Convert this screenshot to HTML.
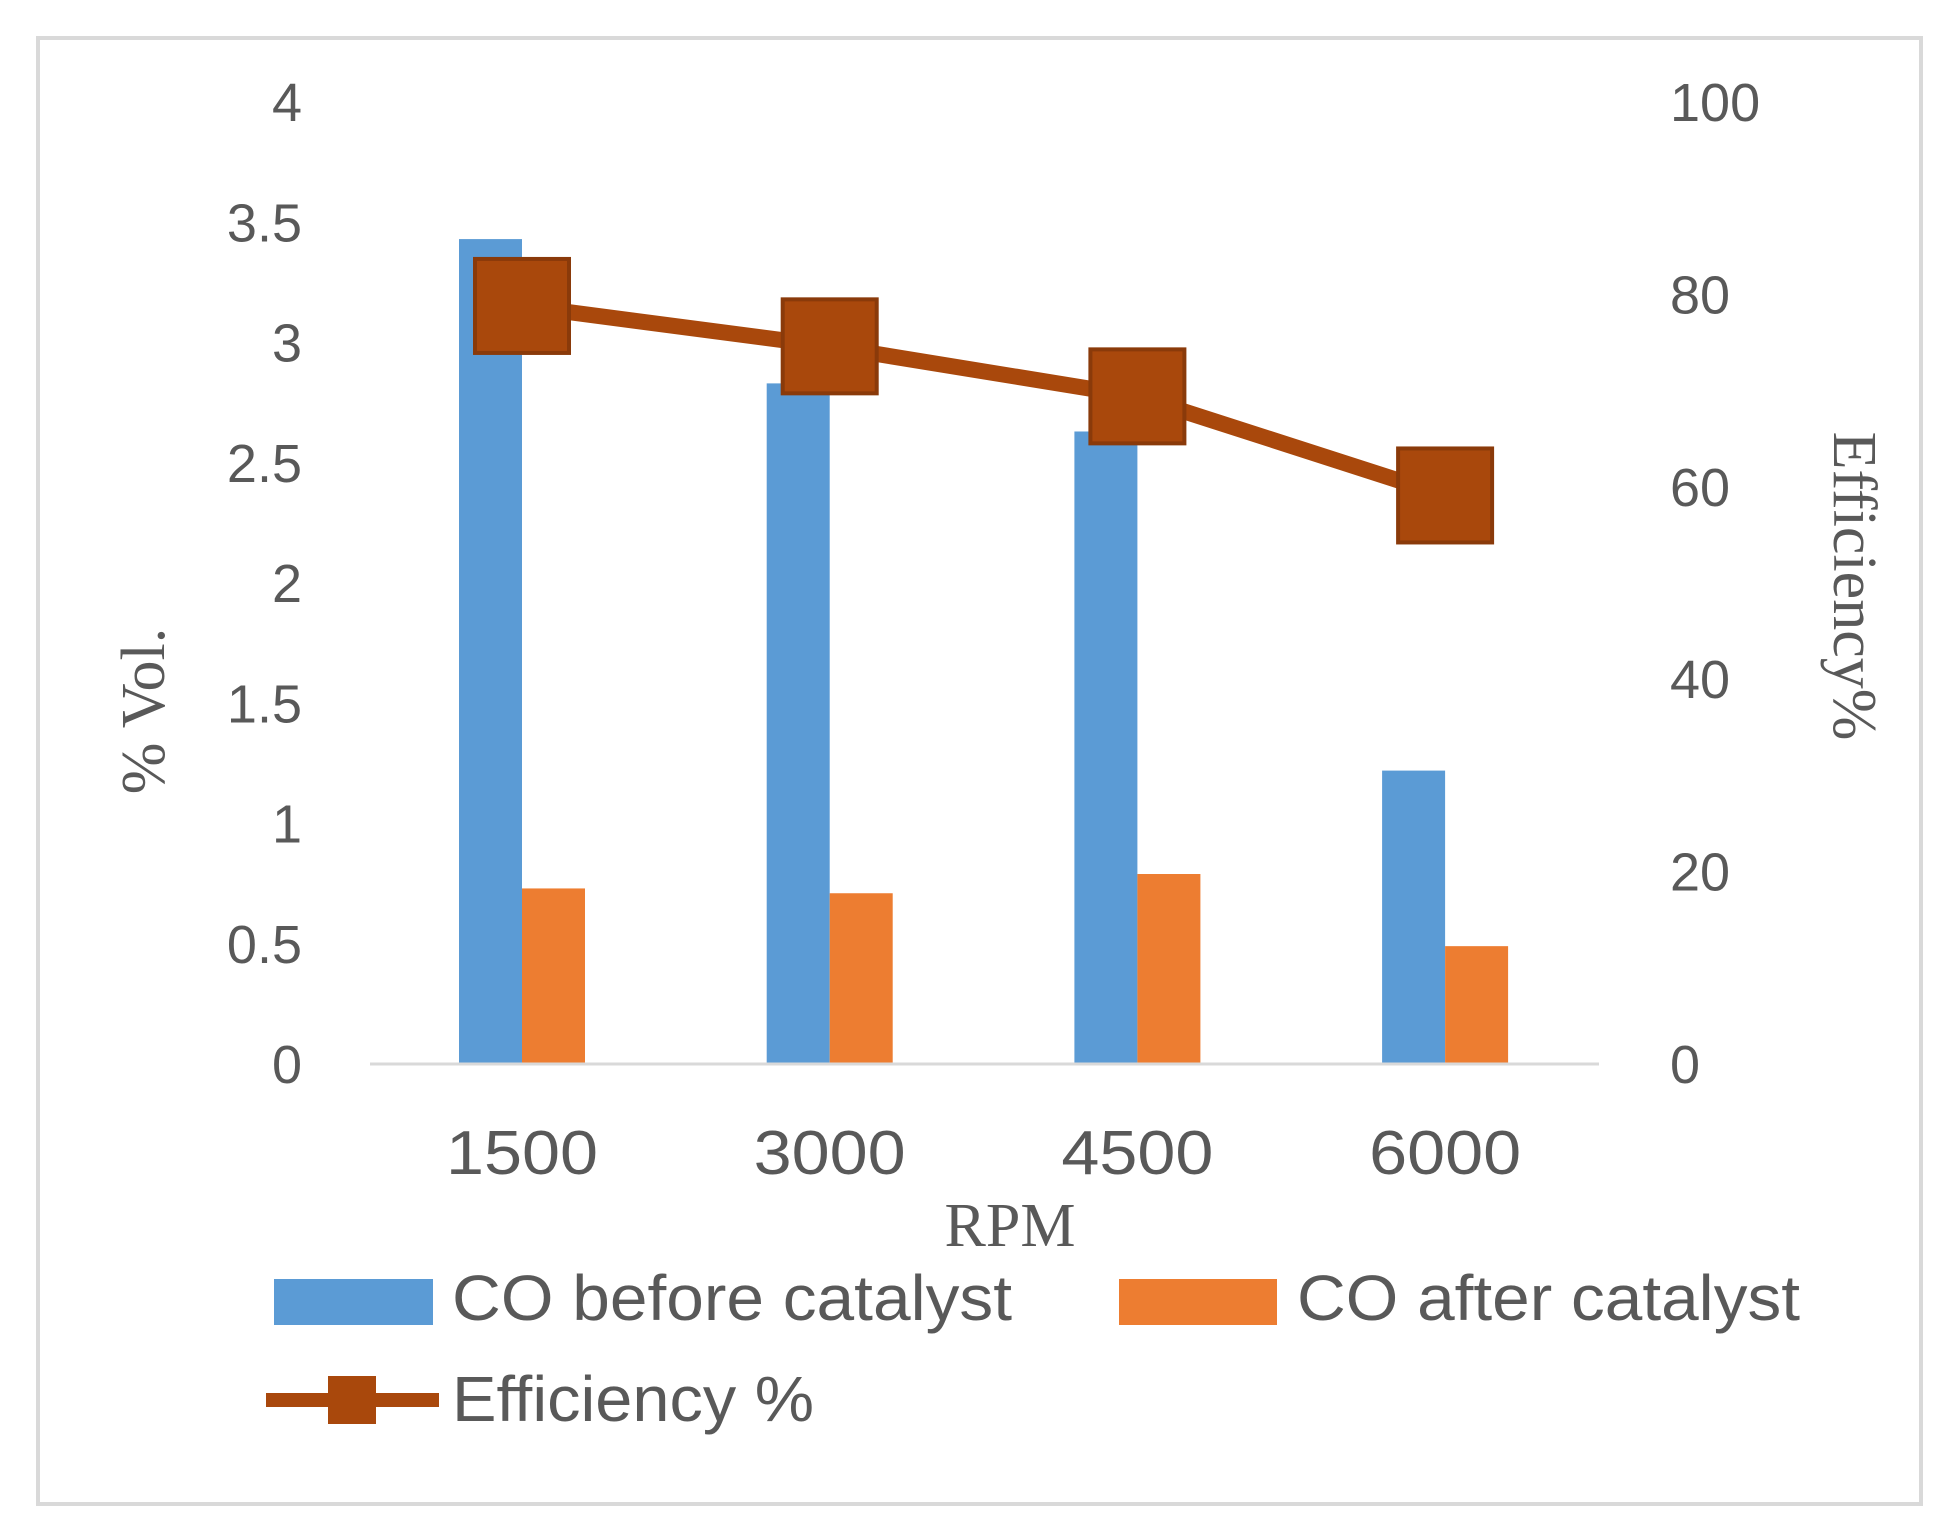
<!DOCTYPE html>
<html><head><meta charset="utf-8"><style>
body{margin:0;background:#fff;}
svg{display:block;}
text{fill:#595959;}
</style></head><body>
<svg id="chart" width="1946" height="1536" viewBox="0 0 1946 1536">
<rect x="38" y="38" width="1883" height="1466" fill="#fff" stroke="#d9d9d9" stroke-width="4"/>
<g id="g"></g>
</svg>
<script>
const categories=["1500","3000","4500","6000"];
const coBefore=[3.43,2.83,2.63,1.22];
const coAfter=[0.73,0.71,0.79,0.49];
const efficiency=[78.8,74.6,69.4,59.1];
const leftTicks=["0","0.5","1","1.5","2","2.5","3","3.5","4"];
const rightTicks=["0","20","40","60","80","100"];
const NS="http://www.w3.org/2000/svg";
const g=document.getElementById('g');
const SANS='font-family:"Liberation Sans",sans-serif';
const SERIF='font-family:"Liberation Serif",serif';
const y0=1064,yTop=102;
const yL=v=>y0-(v/4)*(y0-yTop);
const yR=v=>y0-(v/100)*(y0-yTop);
const xC=i=>522+i*307.7;
function mk(t,a,txt){const e=document.createElementNS(NS,t);for(const k in a)e.setAttribute(k,a[k]);if(txt!==undefined)e.textContent=txt;g.appendChild(e);return e;}
leftTicks.forEach(t=>{const e=mk('text',{x:302,y:yL(+t)+19,'font-size':54,'text-anchor':'end',style:SANS},t);

});
rightTicks.forEach(t=>{const e=mk('text',{x:1670,y:yR(+t)+19,'font-size':54,style:SANS},t);

});
const bw=63;
categories.forEach((c,i)=>{
 let b=mk('rect',{x:xC(i)-bw,y:yL(coBefore[i]),width:bw,height:y0-yL(coBefore[i]),fill:'#5B9BD5'});
 
 
 let a=mk('rect',{x:xC(i),y:yL(coAfter[i]),width:bw,height:y0-yL(coAfter[i]),fill:'#ED7D31'});
 
 
 let t=mk('text',{x:xC(i),y:1174,'font-size':62,'text-anchor':'middle',style:SANS,textLength:152,lengthAdjust:'spacingAndGlyphs'},c);
 
 
});
let ax=mk('line',{x1:370,x2:1599,y1:y0,y2:y0,stroke:'#d9d9d9','stroke-width':3});


let pl=mk('polyline',{points:efficiency.map((v,i)=>xC(i)+','+yR(v)).join(' '),fill:'none',stroke:'#A9480C','stroke-width':16});


efficiency.forEach((v,i)=>{let m=mk('rect',{x:xC(i)-47,y:yR(v)-47,width:94,height:94,fill:'#A9480C',stroke:'#8a3a0a','stroke-width':4});

});
let t1=mk('text',{x:1010,y:1246,'font-size':62,'text-anchor':'middle',style:SERIF},'RPM');

let t2=mk('text',{x:0,y:0,'font-size':62,'text-anchor':'middle',style:SERIF,transform:'translate(164,711) rotate(-90)'},'% Vol.');

let t3=mk('text',{x:0,y:0,'font-size':62,'text-anchor':'middle',style:SERIF,transform:'translate(1834,586) rotate(90)'},'Efficiency%');

let s1=mk('rect',{x:274,y:1279,width:159,height:46,fill:'#5B9BD5'});

let l1=mk('text',{x:452,y:1320,'font-size':64,style:SANS,textLength:560,lengthAdjust:'spacingAndGlyphs'},'CO before catalyst');

let s2=mk('rect',{x:1119,y:1279,width:158,height:46,fill:'#ED7D31'});

let l2=mk('text',{x:1297,y:1320,'font-size':64,style:SANS,textLength:503,lengthAdjust:'spacingAndGlyphs'},'CO after catalyst');

let s3=mk('line',{x1:266,x2:439,y1:1400,y2:1400,stroke:'#A9480C','stroke-width':14});

let s4=mk('rect',{x:328,y:1376,width:48,height:48,fill:'#A9480C'});

let l3=mk('text',{x:452,y:1421,'font-size':64,style:SANS,textLength:362,lengthAdjust:'spacingAndGlyphs'},'Efficiency %');

</script>
</body></html>
